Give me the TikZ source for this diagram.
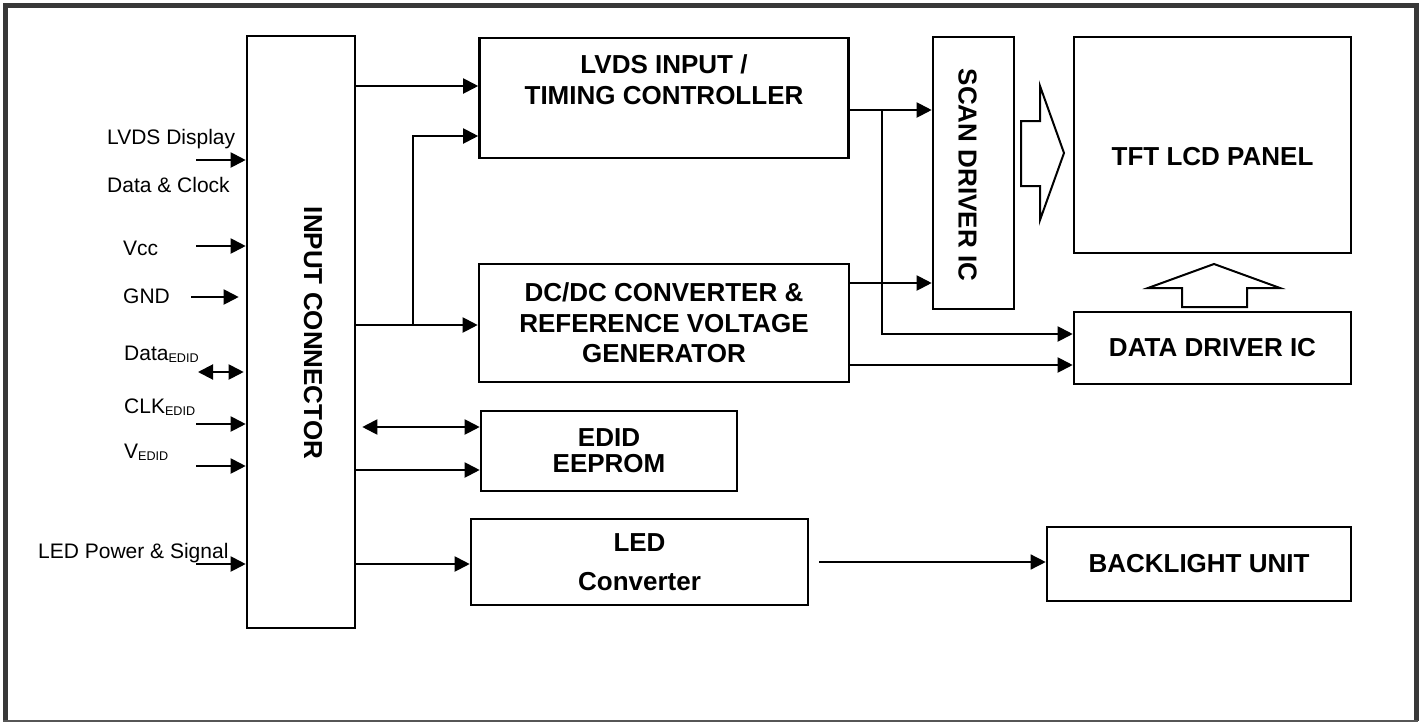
\documentclass[tikz,border=0pt]{standalone}
\usepackage{fontspec}
\setmainfont{Liberation Sans}
\usetikzlibrary{arrows.meta,calc}
\definecolor{framegray}{HTML}{383838}

\newcommand{\edidsub}{{\fontsize{12.6}{14}\selectfont\raisebox{-2pt}{EDID}}}

\begin{document}
\begin{tikzpicture}[x=1pt, y=-1pt,
  block/.style={draw, line width=2.6pt, inner sep=0pt},
  btext/.style={align=center, inner sep=0pt, font=\fontsize{26}{30.7}\selectfont\bfseries},
  pin/.style={anchor=base west, inner sep=0pt, font=\fontsize{21}{24}\selectfont},
  sig/.style={line width=2pt, -{Triangle[length=15pt,width=15pt]}},
  bisig/.style={line width=2pt, {Triangle[length=15pt,width=15pt]}-{Triangle[length=15pt,width=15pt]}},
  hollow/.style={line width=2pt, line join=miter}]
  \useasboundingbox (0,0) rectangle (1424,723);

  % frame
  \draw[framegray, line width=5pt] (5,721) -- (5,5) -- (1416,5) -- (1416,721);
  \draw[framegray!85, line width=2pt] (3,721) -- (1418,721);

  % blocks
  \node[block, minimum width=108pt, minimum height=592pt] (conn) at (301,332) {};
  \node[btext, rotate=-90] at (313,333) {INPUT CONNECTOR};
  \node[block, minimum width=369pt, minimum height=120pt] (lvds) at (664,98) {};
  \node[btext] at (664,80) {LVDS INPUT /\\TIMING CONTROLLER};
  \node[block, btext, minimum width=370pt, minimum height=118pt] (dcdc) at (664,323)
    {DC/DC CONVERTER \&\\REFERENCE VOLTAGE\\GENERATOR};
  \node[block, btext, font=\fontsize{26}{26}\selectfont\bfseries,
    minimum width=256pt, minimum height=80pt] (edid) at (609,451) {EDID\\EEPROM};
  \node[block, btext, font=\fontsize{26}{39}\selectfont\bfseries,
    minimum width=337pt, minimum height=86pt] (led) at (639.5,562) {LED\\Converter};
  \node[block, minimum width=81pt, minimum height=272pt] (scan) at (973.5,173) {};
  \node[btext, rotate=-90] at (967.5,175) {SCAN DRIVER IC};
  \node[block, minimum width=277pt, minimum height=216pt] (tft) at (1212.5,145) {};
  \node[btext] at (1212.5,157) {TFT LCD PANEL};
  \node[block, btext, minimum width=277pt, minimum height=72pt] (ddrv) at (1212.5,348) {DATA DRIVER IC};
  \node[block, btext, minimum width=304pt, minimum height=74pt] (blu) at (1199,564) {BACKLIGHT UNIT};

  % wide arrows into the panel
  \draw[hollow] (1021,121) -- (1040,121) -- (1040,86) -- (1064,153) -- (1040,220)
    -- (1040,186) -- (1021,186) -- cycle;
  \draw[hollow] (1182,307) -- (1182,288) -- (1148,288) -- (1214,264) -- (1280,288)
    -- (1247,288) -- (1247,307) -- cycle;

  % inputs
  \node[pin] at (107,144) {LVDS Display};
  \node[pin] at (107,192) {Data \& Clock};
  \node[pin] at (123,255) {Vcc};
  \node[pin] at (123,303) {GND};
  \node[pin] at (124,360) {Data\edidsub};
  \node[pin] at (124,413) {CLK\edidsub};
  \node[pin] at (124,458) {V\edidsub};
  \node[pin] at (38,558) {LED Power \& Signal};

  \coordinate (inLVDS) at (196,160);
  \coordinate (inVcc) at (196,246);
  \coordinate (inGND) at (191,297);
  \coordinate (inData) at (198,372);
  \coordinate (inCLK) at (196,424);
  \coordinate (inV) at (196,466);
  \coordinate (inLED) at (196,564);
  \draw[sig] (inLVDS) -- (conn.west |- inLVDS);
  \draw[sig] (inVcc) -- (conn.west |- inVcc);
  \draw[sig] (inGND) -- ([xshift=-7pt]conn.west |- inGND);
  \draw[bisig] (inData) -- ([xshift=-2pt]conn.west |- inData);
  \draw[sig] (inCLK) -- (conn.west |- inCLK);
  \draw[sig] (inV) -- (conn.west |- inV);
  \draw[sig] (inLED) -- (conn.west |- inLED);

  % internal signals
  \coordinate (tap1) at (413,325);
  \coordinate (tap2) at (882,110);
  \draw[sig] (conn.east |- 0,86) -- (lvds.west |- 0,86);
  \draw[sig] (conn.east |- tap1) -- (dcdc.west |- tap1);
  \draw[sig] (tap1) |- (lvds.west |- 0,136);
  \draw[sig] (lvds.east |- tap2) -- (scan.west |- tap2);
  \draw[sig] (tap2) |- (ddrv.west |- 0,334);
  \draw[sig] (dcdc.east |- 0,283) -- (scan.west |- 0,283);
  \draw[sig] (dcdc.east |- 0,365) -- (ddrv.west |- 0,365);
  \draw[bisig] ([xshift=6pt]conn.east |- 0,427) -- (edid.west |- 0,427);
  \draw[sig] (conn.east |- 0,470) -- (edid.west |- 0,470);
  \draw[sig] (conn.east |- 0,564) -- (led.west |- 0,564);
  \draw[sig, line width=1.4pt] ([xshift=10pt]led.east |- 0,562) -- (blu.west |- 0,562);
\end{tikzpicture}
\end{document}
